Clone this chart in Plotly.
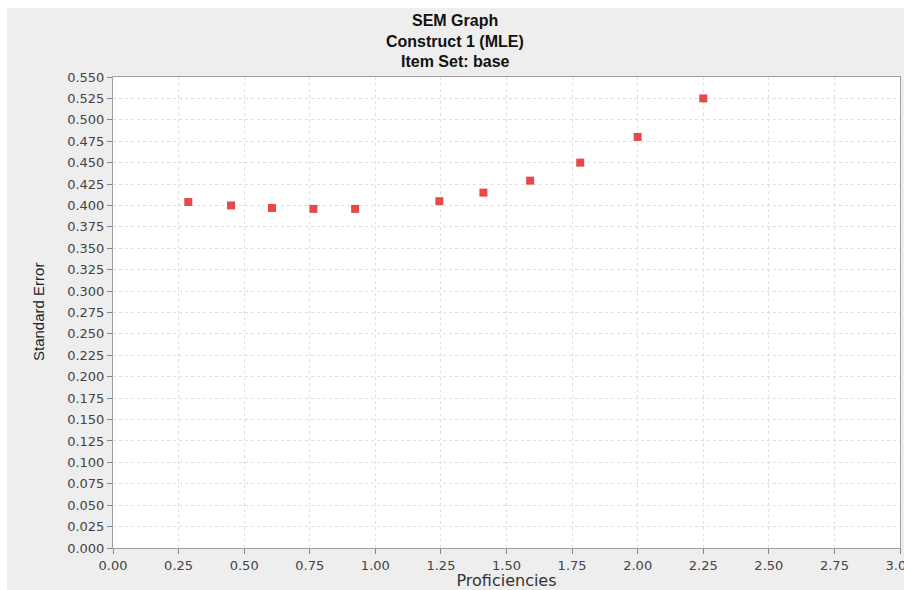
import plotly.graph_objects as go

# Standard error of measurement at each proficiency estimate
proficiency = [0.287, 0.450, 0.606, 0.764, 0.923, 1.244, 1.412, 1.590, 1.781, 2.000, 2.250]
std_error = [0.404, 0.400, 0.397, 0.396, 0.396, 0.405, 0.415, 0.429, 0.450, 0.480, 0.525]

title_lines = ["SEM Graph", "Construct 1 (MLE)", "Item Set: base"]
x_ticks = [0.0, 0.25, 0.5, 0.75, 1.0, 1.25, 1.5, 1.75, 2.0, 2.25, 2.5, 2.75, 3.0]
y_ticks = [i * 0.025 for i in range(23)]

W, H = 904, 590
ML, MR, MT, MB = 113, 4, 77, 42
pw, ph = W - ML - MR, H - MT - MB


def px_x(p):
    return (p - ML) / pw


def px_y(p):
    return (H - MB - p) / ph


fig = go.Figure()
fig.add_trace(go.Scatter(
    x=proficiency, y=std_error, mode="markers",
    marker=dict(symbol="square", size=8, color="#e34a4a",
                line=dict(width=0)),
    showlegend=False, hoverinfo="x+y",
))

tick_font = dict(family="DejaVu Sans", size=13, color="#444444")
axis_common = dict(
    showline=True, linecolor="#a0a0a0", linewidth=1, mirror=True,
    ticks="outside", ticklen=5, tickcolor="#888888",
    showgrid=True, gridcolor="#dedede", griddash="3px,3px", gridwidth=1,
    zeroline=False, tickfont=tick_font, ticklabeloverflow="allow",
    automargin=False,
)

fig.update_xaxes(range=[0, 3], tickvals=x_ticks, tickformat=".2f",
                 title=dict(text="Proficiencies",
                            font=dict(family="DejaVu Sans", size=16, color="#333333"),
                            standoff=3),
                 **axis_common)
fig.update_yaxes(range=[0, 0.55], tickvals=y_ticks, tickformat=".3f",
                 **axis_common)

# grey panel behind the whole chart, white plotting area on top of it
shapes = [
    dict(type="rect", xref="paper", yref="paper", layer="below",
         x0=px_x(7), x1=px_x(W + 2), y0=px_y(H + 2), y1=px_y(8),
         fillcolor="#eeeeee", line=dict(width=0)),
    dict(type="rect", xref="paper", yref="paper", layer="below",
         x0=0, x1=1, y0=0, y1=1, fillcolor="#ffffff", line=dict(width=0)),
]

title_font = dict(family="Liberation Sans Narrow, Arial Narrow, Liberation Sans", size=16, color="#111111")
annotations = []
for line, ypx in zip(title_lines, [20, 41, 61]):
    annotations.append(dict(
        text=f"<b>{line}</b>", x=px_x(455), y=px_y(ypx), xref="paper", yref="paper",
        xanchor="center", yanchor="middle", showarrow=False, font=title_font,
    ))
annotations.append(dict(
    text="Standard Error", x=px_x(38), y=px_y(312), xref="paper", yref="paper",
    xanchor="center", yanchor="middle", textangle=-90, showarrow=False,
    font=dict(family="Liberation Sans Narrow, Arial Narrow, Liberation Sans", size=15, color="#222222"),
))

fig.update_layout(
    width=W, height=H,
    margin=dict(l=ML, r=MR, t=MT, b=MB, pad=0, autoexpand=False),
    paper_bgcolor="#ffffff", plot_bgcolor="#ffffff",
    shapes=shapes, annotations=annotations,
)

fig.write_html("out.html")
